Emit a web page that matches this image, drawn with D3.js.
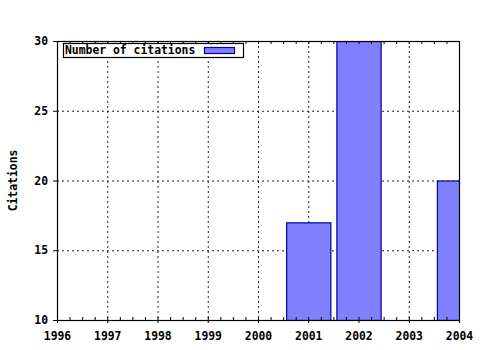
<!DOCTYPE html>
<html>
<head>
<meta charset="utf-8">
<script src="https://cdn.jsdelivr.net/npm/d3@7"></script>
<style>
  body { margin: 0; background: #fff; }
  text { font-family: "DejaVu Sans Mono", monospace; font-weight: bold; font-size: 11.4px; fill: #000; }
</style>
</head>
<body>
<div id="chart"></div>
<script>
// data
var years = [2001, 2002, 2004];
var citations = [17, 30, 20];
var xTicks = [1996, 1997, 1998, 1999, 2000, 2001, 2002, 2003, 2004];
var yTicks = [10, 15, 20, 25, 30];
var seriesName = "Number of citations";

var margin = {top: 41, right: 21, bottom: 30, left: 57};
var width = 480 - margin.left - margin.right;
var height = 350 - margin.top - margin.bottom;

var svg = d3.select("#chart").append("svg")
    .attr("width", 480)
    .attr("height", 350);

var g = svg.append("g")
    .attr("transform", "translate(" + margin.left + "," + margin.top + ")");

var x = d3.scaleLinear().domain([1996, 2004]).range([0, width]);
var y = d3.scaleLinear().domain([10, 30]).range([height, 0]);

g.append("clipPath").attr("id", "plotclip")
    .append("rect").attr("width", width).attr("height", height);

// dotted grid
g.selectAll(".vgrid")
    .data(xTicks.slice(1, -1))
    .enter().append("line")
    .attr("x1", function(d){ return x(d) + 0.5; })
    .attr("x2", function(d){ return x(d) + 0.5; })
    .attr("y1", 0).attr("y2", height)
    .attr("stroke", "#222").attr("stroke-dasharray", "2,3");

g.selectAll(".hgrid")
    .data(yTicks.slice(1, -1))
    .enter().append("line")
    .attr("x1", 0).attr("x2", width)
    .attr("y1", function(d){ return y(d) + 0.5; })
    .attr("y2", function(d){ return y(d) + 0.5; })
    .attr("stroke", "#222").attr("stroke-dasharray", "2,3");

// bars
var bars = years.map(function(d, i){ return {year: d, value: citations[i]}; });
g.append("g").attr("clip-path", "url(#plotclip)")
    .selectAll("rect")
    .data(bars)
    .enter().append("rect")
    .attr("x", function(d){ return x(d.year - 0.44) + 0.5; })
    .attr("width", function(d){ return x(d.year + 0.44) - x(d.year - 0.44); })
    .attr("y", function(d){ return y(d.value) + 0.5; })
    .attr("height", function(d){ return height - y(d.value); })
    .attr("fill", "#8080ff")
    .attr("stroke", "#0000a0")
    .attr("stroke-width", 1.2);

// minor ticks, every quarter year
var minor = d3.range(0, 33).map(function(i){ return 1996 + i * 0.25; });

g.append("g")
    .attr("transform", "translate(0," + height + ")")
    .call(d3.axisBottom(x).tickValues(minor).tickSize(-3).tickFormat(""))
    .call(function(s){ s.select(".domain").remove(); });

g.append("g")
    .call(d3.axisTop(x).tickValues(minor).tickSize(-3).tickFormat(""))
    .call(function(s){ s.select(".domain").remove(); });

// major axes
var xAxis = g.append("g")
    .attr("transform", "translate(0," + height + ")")
    .call(d3.axisBottom(x).tickValues(xTicks).tickSize(3).tickPadding(9).tickFormat(d3.format("d")));
xAxis.select(".domain").remove();

var yAxis = g.append("g")
    .call(d3.axisLeft(y).tickValues(yTicks).tickSize(4).tickPadding(5));
yAxis.select(".domain").remove();

g.selectAll(".tick text").style("font-family", null).style("font-size", null);
svg.selectAll(".tick line").attr("stroke", "#000");

// frame
g.append("rect")
    .attr("x", 0.5).attr("y", 0.5)
    .attr("width", width).attr("height", height)
    .attr("fill", "none").attr("stroke", "#000").attr("stroke-width", 1.2);

// legend
var legend = g.append("g").attr("transform", "translate(6,2)");
legend.append("rect")
    .attr("x", 0.5).attr("y", 0.5)
    .attr("width", 180).attr("height", 14)
    .attr("fill", "#fff").attr("stroke", "#000").attr("stroke-width", 1.2);
legend.append("text")
    .attr("x", 2).attr("y", 11)
    .text(seriesName);
legend.append("rect")
    .attr("x", 141.5).attr("y", 4.5)
    .attr("width", 30).attr("height", 6)
    .attr("fill", "#8080ff").attr("stroke", "#0000a0").attr("stroke-width", 1.2);

// y label
svg.append("text")
    .attr("transform", "translate(17," + (margin.top + height / 2) + ") rotate(-90)")
    .attr("text-anchor", "middle")
    .text("Citations");
</script>
</body>
</html>
